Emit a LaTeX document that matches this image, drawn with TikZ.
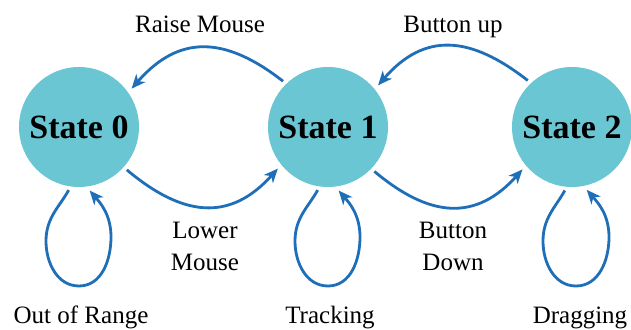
\documentclass[tikz,border=0pt]{standalone}
\usepackage{fontspec}
\setmainfont{Liberation Serif}
\usetikzlibrary{arrows.meta,calc}
\definecolor{statefill}{RGB}{107,198,211}
\definecolor{edgeblue}{RGB}{31,111,184}
\begin{document}
\begin{tikzpicture}[x=1pt,y=1pt,
  state/.style={circle, fill=statefill, minimum size=120pt, inner sep=0pt,
    font=\fontsize{34}{40}\selectfont\bfseries},
  edge/.style={draw=edgeblue, line width=2.8pt,
    -{Stealth[length=14pt,width=12pt,inset=4pt]},
    shorten <=4pt, shorten >=5pt},
  lbl/.style={font=\fontsize{25}{32}\selectfont, align=center, inner sep=0pt}]
\useasboundingbox (0,0) rectangle (631,329);

% states
\node[state] (s0) at (79,202) {State 0};
\node[state] (s1) at (328,202) {State 1};
\node[state] (s2) at (572,202) {State 2};

% transitions across the top
\draw[edge] (s1.134) to[out=142,in=49,looseness=1.25] (s0.35);
\draw[edge] (s2.133) to[out=142,in=49,looseness=1.25] (s1.39);

% transitions across the bottom
\draw[edge] (s0.-42) to[out=-40,in=228,looseness=1.25] (s1.219);
\draw[edge] (s1.-44) to[out=-40,in=228,looseness=1.25] (s2.220);

% self loops: down the left side, round the bottom, back up the right side
\draw[edge] (s0.262) to[out=241,in=90] ($(s0)+(-33,-114)$)
  to[out=-90,in=180] ($(s0)+(0,-159)$) to[out=0,in=-90] ($(s0)+(32,-110)$)
  to[out=90,in=-49] (s0.277);
\draw[edge] (s1.262) to[out=241,in=90] ($(s1)+(-33,-114)$)
  to[out=-90,in=180] ($(s1)+(0,-159)$) to[out=0,in=-90] ($(s1)+(32,-110)$)
  to[out=90,in=-49] (s1.277);
\draw[edge] (s2.265) to[out=241,in=90] ($(s2)+(-29,-114)$)
  to[out=-90,in=180] ($(s2)+(4,-159)$) to[out=0,in=-90] ($(s2)+(37,-110)$)
  to[out=90,in=-49] (s2.281);

% labels
\node[lbl, anchor=base] (lraise) at (200,296) {Raise Mouse};
\node[lbl, anchor=base] (lbup) at (453,296) {Button up};
\node[lbl] (llower) at (205,83) {Lower\\Mouse};
\node[lbl] (lbdown) at (453,83) {Button\\Down};
\node[lbl, anchor=base] (lout) at (81,6) {Out of Range};
\node[lbl, anchor=base] (ltrack) at (330,6) {Tracking};
\node[lbl, anchor=base] (ldrag) at (580,6) {Dragging};
\end{tikzpicture}
\end{document}
